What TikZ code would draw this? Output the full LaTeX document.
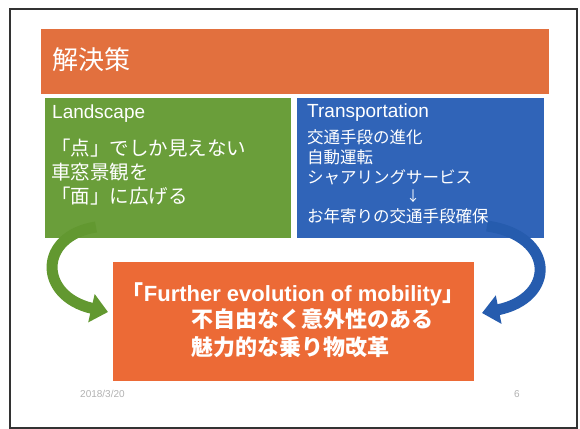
\documentclass[tikz,border=0pt]{standalone}
\usepackage{fontspec}
\setmainfont{Liberation Sans}
\newfontfamily\jp{Noto Sans CJK JP}
\usetikzlibrary{arrows.meta}
\definecolor{titleorange}{RGB}{226,112,62}
\definecolor{boxgreen}{RGB}{106,158,58}
\definecolor{boxblue}{RGB}{48,100,184}
\definecolor{mainorange}{RGB}{236,106,54}
\definecolor{arrowgreen}{RGB}{98,152,48}
\definecolor{arrowblue}{RGB}{38,92,174}
\tikzset{
  panel/.style={rectangle, inner sep=0pt, anchor=north west, draw=none},
  wtext/.style={text=white, inner sep=0pt, anchor=west},
  bigarrow/.style={line width=11pt, -{Triangle[width=28pt,length=17pt]}},
  foot/.style={text=black!30, inner sep=0pt, font=\fontsize{10}{12}\selectfont}
}
\begin{document}
\begin{tikzpicture}[x=1pt,y=-1pt]
\useasboundingbox (0,0) rectangle (580,428);
\fill[white] (0,0) rectangle (580,428);
\draw[line width=2pt, black!80] (10,9) rectangle (577,427.5);

% title bar
\node[panel, fill=titleorange, minimum width=508pt, minimum height=65pt] (title) at (41,29) {};
\node[wtext, font=\jp\fontsize{26}{30}\selectfont] (titletext) at (52,60) {解決策};

% green panel
\node[panel, fill=boxgreen, minimum width=246pt, minimum height=140pt] (green) at (45,98) {};
\node[text=white, inner sep=0pt, anchor=base west, font=\fontsize{19}{22}\selectfont] (land) at (52,118) {Landscape};
\node[wtext, font=\jp\fontsize{19.5}{22}\selectfont] (g1) at (51,148) {「点」でしか見えない};
\node[wtext, font=\jp\fontsize{19.5}{22}\selectfont] (g2) at (51,172) {車窓景観を};
\node[wtext, font=\jp\fontsize{19.5}{22}\selectfont] (g3) at (51,196) {「面」に広げる};

% blue panel
\node[panel, fill=boxblue, minimum width=247pt, minimum height=140pt] (blue) at (297,98) {};
\node[text=white, inner sep=0pt, anchor=base west, font=\fontsize{19}{22}\selectfont] (trans) at (307,117) {Transportation};
\node[wtext, font=\jp\fontsize{16.5}{20}\selectfont] (b1) at (307,137) {交通手段の進化};
\node[wtext, font=\jp\fontsize{16.5}{20}\selectfont] (b2) at (307,157) {自動運転};
\node[wtext, font=\jp\fontsize{16.5}{20}\selectfont] (b3) at (307,177) {シャアリングサービス};
\node[text=white, inner sep=0pt, font=\jp\fontsize{14}{16}\selectfont] (b4) at (413,196) {↓};
\node[wtext, font=\jp\fontsize{16.5}{20}\selectfont] (b5) at (307,216) {お年寄りの交通手段確保};

% main box
\node[panel, fill=mainorange, minimum width=361pt, minimum height=119pt] (main) at (113,262) {};
\node[text=white, inner sep=0pt, font=\bfseries\fontsize{22}{26}\selectfont] (m1) at (293,294) {{\jp 「}Further evolution of mobility{\jp 」}};
\node[wtext, font=\jp\bfseries\fontsize{22}{26}\selectfont] (m2) at (191,319) {不自由なく意外性のある};
\node[wtext, font=\jp\bfseries\fontsize{22}{26}\selectfont] (m3) at (191,347) {魅力的な乗り物改革};

% arrows
\coordinate (gtail) at (96,227);
\coordinate (gtip) at (108,312);
\coordinate (btail) at (487,226);
\coordinate (btip) at (482,313);
\draw[bigarrow, arrowgreen] (gtail) .. controls (38,236) and (38,296) .. (gtip);
\draw[bigarrow, arrowblue] (btail) .. controls (556,236) and (556,298) .. (btip);

% footer
\node[foot, anchor=west] (date) at (80,394) {2018/3/20};
\node[foot] (page) at (517,394) {6};
\end{tikzpicture}
\end{document}
